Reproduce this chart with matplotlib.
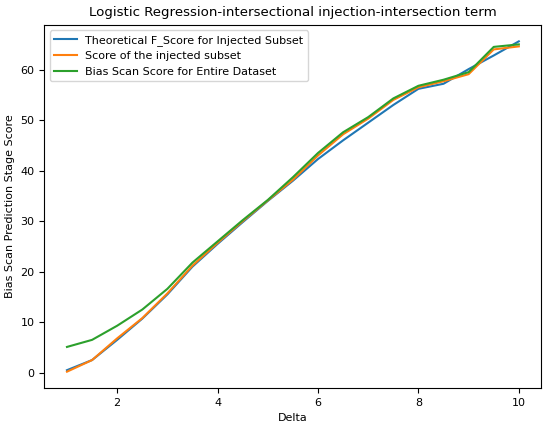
import matplotlib.pyplot as plt
import numpy as np

delta = np.arange(1, 10.5, 0.5)

# theoretical F score for injected subset
theoretical = [0.5, 2.5, 6.5, 10.7, 15.5, 21.0, 25.5, 29.8, 34.0, 38.0,
               42.3, 46.0, 49.5, 53.0, 56.2, 57.2, 60.1, 62.8, 65.6]
# score of the injected subset
injected = [0.2, 2.5, 6.8, 10.8, 15.7, 21.2, 25.7, 30.0, 34.1, 38.2,
            43.0, 47.2, 50.3, 54.0, 56.5, 57.7, 59.1, 64.0, 64.6]
# bias scan score on the whole dataset
entire = [5.1, 6.5, 9.3, 12.5, 16.6, 21.8, 26.0, 30.2, 34.2, 38.7,
          43.5, 47.6, 50.6, 54.3, 56.8, 58.0, 59.5, 64.5, 65.0]

fig = plt.figure(figsize=(5.48, 4.28), dpi=100)
ax = fig.add_axes([0.081, 0.093, 0.907, 0.849])

ax.plot(delta, theoretical, label='Theoretical F_Score for Injected Subset')
ax.plot(delta, injected, label='Score of the injected subset')
ax.plot(delta, entire, label='Bias Scan Score for Entire Dataset')

ax.set_title('Logistic Regression-intersectional injection-intersection term', fontsize=9.6)
ax.set_xlabel('Delta', fontsize=8)
ax.set_ylabel('Bias Scan Prediction Stage Score', fontsize=8)
ax.tick_params(labelsize=8)
ax.legend(loc='upper left', fontsize=8)

plt.savefig('out.png')
